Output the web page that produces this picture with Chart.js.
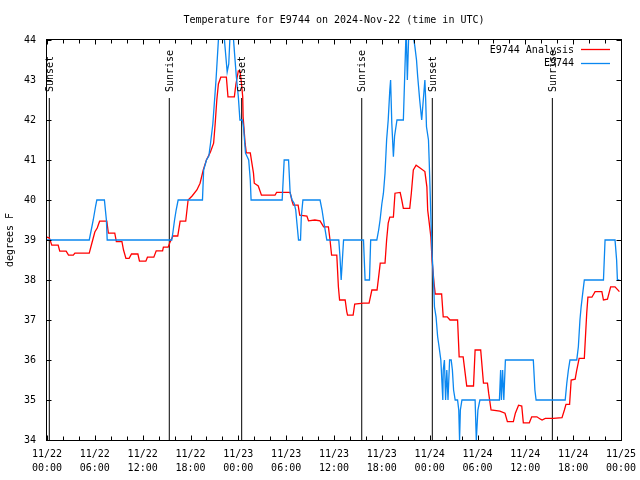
<!DOCTYPE html>
<html>
<head>
<meta charset="utf-8">
<script src="https://cdn.jsdelivr.net/npm/chart.js@4"></script>
<style>
  html, body { margin: 0; padding: 0; background: #fff; }
  #wrap { width: 640px; height: 480px; }
</style>
</head>
<body>
<div id="wrap"><canvas id="tempChart" width="640" height="480"></canvas></div>
<script>
// ── Data (hours since 11/22 00:00 UTC, degrees F) ─────────────────────────
const days = ['11/22', '11/23', '11/24', '11/25'];

const analysisHours = [
    0, 0.3, 0.6, 1.4, 1.6, 2.4, 2.7, 3.3, 3.5, 5.3, 5.6, 6.0, 6.3, 6.6, 7.5, 7.7, 8.5, 8.7, 9.4, 9.6,
    9.9, 10.3, 10.6, 11.4, 11.6, 12.4, 12.6, 13.4, 13.7, 14.5, 14.6, 15.2, 15.4, 15.8, 16.4, 16.7, 17.4, 17.7, 18.2, 18.8,
    19.2, 19.6, 20.0, 20.5, 20.9, 21.1, 21.3, 21.5, 21.8, 22.5, 22.7, 23.5, 23.7, 24.0, 24.2, 24.35, 24.55, 24.6, 24.85, 25.0,
    25.5, 25.7, 25.9, 26.0, 26.5, 26.9, 28.6, 28.8, 30.5, 30.7, 30.9, 31.5, 31.7, 32.6, 32.8, 33.6, 34.25, 34.7, 35.3, 35.5,
    35.7, 36.35, 36.55, 36.7, 37.4, 37.6, 37.7, 38.4, 38.6, 39.7, 40.4, 40.75, 41.4, 41.6, 41.8, 42.4, 42.6, 42.8, 43.0, 43.45,
    43.65, 44.3, 44.5, 44.7, 45.5, 45.7, 45.95, 46.3, 46.8, 47.4, 47.65, 47.75, 47.95, 48.15, 48.3, 48.55, 48.7, 49.5, 49.7, 50.2,
    50.55, 51.5, 51.7, 52.2, 52.45, 52.65, 53.5, 53.7, 54.4, 54.75, 55.25, 55.4, 55.7, 56.8, 57.45, 57.75, 58.5, 58.75, 59.15, 59.55,
    59.75, 60.5, 60.8, 61.45, 61.9, 62.1, 62.5, 63.5, 64.6, 64.9, 65.1, 65.55, 65.75, 66.25, 66.45, 66.75, 67.4, 67.7, 67.85, 68.35,
    68.75, 69.6, 69.8, 70.3, 70.7, 71.25, 71.8
];
const analysisTemps = [
    39.07, 39.05, 38.87, 38.87, 38.72, 38.72, 38.62, 38.62, 38.67, 38.67, 38.9, 39.2, 39.3, 39.47, 39.47, 39.17, 39.17, 38.96, 38.96, 38.75,
    38.54, 38.54, 38.65, 38.65, 38.47, 38.47, 38.57, 38.57, 38.73, 38.73, 38.82, 38.82, 38.93, 39.1, 39.1, 39.47, 39.47, 40.0, 40.1, 40.25,
    40.42, 40.75, 41.0, 41.2, 41.42, 41.92, 42.5, 42.9, 43.07, 43.07, 42.58, 42.58, 42.9, 43.23, 43.23, 43.0, 42.58, 42.08, 41.42, 41.18,
    41.18, 40.92, 40.67, 40.42, 40.35, 40.12, 40.12, 40.19, 40.19, 40.0, 39.87, 39.87, 39.62, 39.6, 39.48, 39.5, 39.48, 39.33, 39.33, 39.0,
    38.62, 38.62, 37.83, 37.5, 37.5, 37.21, 37.12, 37.12, 37.4, 37.42, 37.42, 37.75, 37.75, 38.08, 38.42, 38.42, 39.0, 39.42, 39.57, 39.57,
    40.17, 40.19, 40.0, 39.79, 39.79, 40.17, 40.75, 40.87, 40.8, 40.71, 40.33, 39.75, 39.42, 39.08, 38.5, 37.92, 37.65, 37.65, 37.08, 37.08,
    37.0, 37.0, 36.08, 36.08, 35.67, 35.35, 35.35, 36.25, 36.25, 35.42, 35.42, 35.17, 34.75, 34.72, 34.67, 34.46, 34.46, 34.67, 34.87, 34.85,
    34.43, 34.43, 34.58, 34.58, 34.52, 34.5, 34.54, 34.54, 34.56, 34.75, 34.89, 34.89, 35.5, 35.52, 35.75, 36.04, 36.04, 37.17, 37.57, 37.57,
    37.71, 37.71, 37.5, 37.52, 37.83, 37.83, 37.71
];

const obsHours = [
    0, 5.3, 5.5, 5.8, 6.1, 6.25, 7.2, 7.45, 7.55, 15.65, 15.8, 16.0, 16.2, 16.45, 19.5, 19.65, 20.0, 20.3, 20.5, 20.8,
    21.2, 21.5, 21.8, 22.1, 22.3, 22.6, 22.8, 23.0, 23.2, 23.4, 23.55, 23.75, 24.0, 24.2, 24.5, 24.65, 24.9, 25.3, 25.5, 25.6,
    29.5, 29.75, 30.3, 30.5, 30.75, 31.0, 31.2, 31.35, 31.55, 31.8, 31.9, 32.1, 34.25, 34.5, 34.75, 35.1, 36.6, 36.75, 36.9, 37.05,
    37.2, 39.7, 39.9, 40.45, 40.6, 41.37, 41.6, 41.78, 42.0, 42.2, 42.4, 42.6, 42.8, 43.0, 43.1, 43.25, 43.45, 43.6, 43.9, 44.7,
    44.9, 45.05, 45.2, 45.4, 45.7, 45.95, 46.15, 46.35, 46.5, 46.75, 47.0, 47.2, 47.4, 47.5, 47.6, 47.85, 47.95, 48.15, 48.3, 48.5,
    48.6, 48.8, 49.0, 49.2, 49.4, 49.65, 49.7, 49.85, 50.0, 50.15, 50.3, 50.5, 50.7, 50.85, 51.0, 51.2, 51.5, 51.65, 51.75, 51.85,
    52.05, 53.7, 53.85, 54.05, 54.3, 56.75, 56.9, 57.0, 57.15, 57.3, 57.5, 61.0, 61.2, 61.35, 65.0, 65.2, 65.4, 65.6, 66.45, 66.65,
    66.85, 67.0, 67.2, 67.4, 69.8, 70.0, 71.25, 71.45, 71.55, 71.8
];
const obsTemps = [
    39.0, 39.0, 39.2, 39.5, 39.85, 40.0, 40.0, 39.5, 39.0, 39.0, 39.2, 39.5, 39.75, 40.0, 40.0, 40.75, 41.0, 41.1, 41.4, 41.9,
    43.0, 44.0, 44.5, 44.4, 43.9, 43.2, 43.4, 44.3, 44.5, 44.0, 43.6, 43.08, 42.58, 42.0, 42.0, 41.83, 41.17, 41.0, 40.5, 40.0,
    40.0, 41.0, 41.0, 40.17, 40.0, 39.92, 39.75, 39.42, 39.0, 39.0, 39.58, 40.0, 40.0, 39.75, 39.42, 39.0, 39.0, 38.58, 38.0, 38.5,
    39.0, 39.0, 38.0, 38.0, 39.0, 39.0, 39.25, 39.5, 39.9, 40.17, 40.67, 41.5, 42.0, 42.75, 43.0, 41.92, 41.08, 41.6, 42.0, 42.0,
    43.3, 44.3, 43.0, 44.3, 44.5, 44.1, 43.83, 43.5, 43.08, 42.5, 42.0, 42.5, 43.0, 42.5, 41.83, 41.5, 40.92, 39.58, 38.67, 37.92,
    37.33, 37.08, 36.58, 36.3, 36.0, 35.0, 35.75, 36.0, 35.0, 35.75, 35.0, 36.0, 36.0, 35.75, 35.25, 35.0, 35.0, 34.75, 34.0, 34.75,
    35.0, 35.0, 34.0, 34.75, 35.0, 35.0, 35.75, 35.0, 35.75, 35.0, 36.0, 36.0, 35.25, 35.0, 35.0, 35.42, 35.75, 36.0, 36.0, 36.33,
    37.0, 37.33, 37.67, 38.0, 38.0, 39.0, 39.0, 38.5, 38.0, 38.0
];

const sunHours  = [0.29, 15.34, 24.42, 39.48, 48.33, 63.39];
const sunLabels = ['Sunset', 'Sunrise', 'Sunset', 'Sunrise', 'Sunset', 'Sunrise'];
const sunLineTop = 42.55;

// ── Style ─────────────────────────────────────────────────────────────────
const FONT_FAMILY = "'DejaVu Sans Mono', 'Liberation Mono', monospace";
const RED  = '#ff0000';
const BLUE = 'rgb(10,135,240)';

const toPoints = (xs, ys) => xs.map((h, i) => ({ x: h, y: ys[i] }));

const sunDatasets = sunHours.map(h => ({
    label: '',
    data: [{ x: h, y: 34 }, { x: h, y: sunLineTop }],
    borderColor: '#000',
    borderWidth: 1,
    pointRadius: 0,
    order: 3,
}));

// gnuplot-ish frame, inward ticks, sun labels and key
const gnuplotFrame = {
    id: 'gnuplotFrame',
    afterDraw(chart) {
        const { ctx, chartArea: a, scales: { x, y } } = chart;
        const L = Math.round(a.left) - 0.5, R = Math.round(a.right) + 0.5;
        const T = Math.round(a.top) - 0.5,  B = Math.round(a.bottom) + 0.5;

        ctx.save();
        ctx.strokeStyle = '#000';
        ctx.lineWidth = 1;
        ctx.strokeRect(L, T, R - L, B - T);

        ctx.beginPath();
        x.ticks.forEach(t => {
            const px = Math.round(x.getPixelForValue(t.value)) + 0.5;
            const len = t.value % 6 === 0 ? 5 : 4;
            ctx.moveTo(px, B); ctx.lineTo(px, B - len);
            ctx.moveTo(px, T); ctx.lineTo(px, T + len);
        });
        y.ticks.forEach(t => {
            const py = Math.round(y.getPixelForValue(t.value)) + 0.5;
            ctx.moveTo(L, py); ctx.lineTo(L + 5, py);
            ctx.moveTo(R, py); ctx.lineTo(R - 5, py);
        });
        ctx.stroke();

        // sunrise / sunset labels, rotated above each line
        ctx.font = '10px ' + FONT_FAMILY;
        ctx.fillStyle = '#000';
        ctx.textAlign = 'left';
        ctx.textBaseline = 'middle';
        sunHours.forEach((h, i) => {
            const px = x.getPixelForValue(h) + 1;
            const py = y.getPixelForValue(sunLineTop) - 6;
            ctx.save();
            ctx.translate(px, py);
            ctx.rotate(-Math.PI / 2);
            ctx.fillText(sunLabels[i], 0, 0);
            ctx.restore();
        });

        // key (top right)
        const keys = [
            { text: 'E9744 Analysis', color: RED },
            { text: 'E9744',          color: BLUE },
        ];
        ctx.textAlign = 'right';
        ctx.lineWidth = 1.3;
        keys.forEach((k, i) => {
            const ky = a.top + 10 + i * 13.5;
            ctx.fillStyle = '#000';
            ctx.fillText(k.text, a.right - 47, ky);
            ctx.strokeStyle = k.color;
            ctx.beginPath();
            ctx.moveTo(a.right - 40, Math.round(ky) - 0.5);
            ctx.lineTo(a.right - 11, Math.round(ky) - 0.5);
            ctx.stroke();
        });
        ctx.restore();
    }
};

new Chart(document.getElementById('tempChart'), {
    type: 'line',
    data: {
        datasets: [
            {
                label: 'E9744',
                data: toPoints(obsHours, obsTemps),
                borderColor: BLUE,
                borderWidth: 1.3,
                pointRadius: 0,
                tension: 0,
                order: 1,
            },
            {
                label: 'E9744 Analysis',
                data: toPoints(analysisHours, analysisTemps),
                borderColor: RED,
                borderWidth: 1.3,
                pointRadius: 0,
                tension: 0,
                order: 2,
            },
            ...sunDatasets,
        ]
    },
    options: {
        responsive: false,
        animation: false,
        layout: { padding: { left: 0, right: 19, top: 0, bottom: 0 } },
        plugins: {
            legend:  { display: false },
            tooltip: { enabled: false },
            title: {
                display: true,
                fullSize: false,
                text: 'Temperature for E9744 on 2024-Nov-22 (time in UTC)',
                color: '#000',
                font: { family: FONT_FAMILY, size: 10, weight: 'normal', lineHeight: 1.2 },
                padding: { top: 14, bottom: 14 },
            },
        },
        scales: {
            x: {
                type: 'linear',
                min: 0,
                max: 72,
                grid:   { display: false, drawTicks: false },
                border: { display: false },
                afterFit: s => { s.height = 40; s.paddingLeft = 0; s.paddingRight = 0; },
                ticks: {
                    stepSize: 2,
                    autoSkip: false,
                    maxRotation: 0,
                    padding: 7,
                    color: '#000',
                    font: { family: FONT_FAMILY, size: 10, lineHeight: 1.4 },
                    callback: v => {
                        if (v % 6 !== 0) return '';
                        const hh = String(v % 24).padStart(2, '0');
                        return [days[Math.floor(v / 24)], hh + ':00'];
                    }
                }
            },
            y: {
                min: 34,
                max: 44,
                grid:   { display: false, drawTicks: false },
                border: { display: false },
                afterFit: s => { s.width = 47; },
                title: {
                    display: true,
                    text: 'degrees F',
                    color: '#000',
                    font: { family: FONT_FAMILY, size: 10, lineHeight: 1.2 },
                    padding: { top: 4, bottom: 0 },
                },
                ticks: {
                    stepSize: 1,
                    padding: 11,
                    color: '#000',
                    font: { family: FONT_FAMILY, size: 10 },
                }
            }
        }
    },
    plugins: [gnuplotFrame]
});
</script>
</body>
</html>
